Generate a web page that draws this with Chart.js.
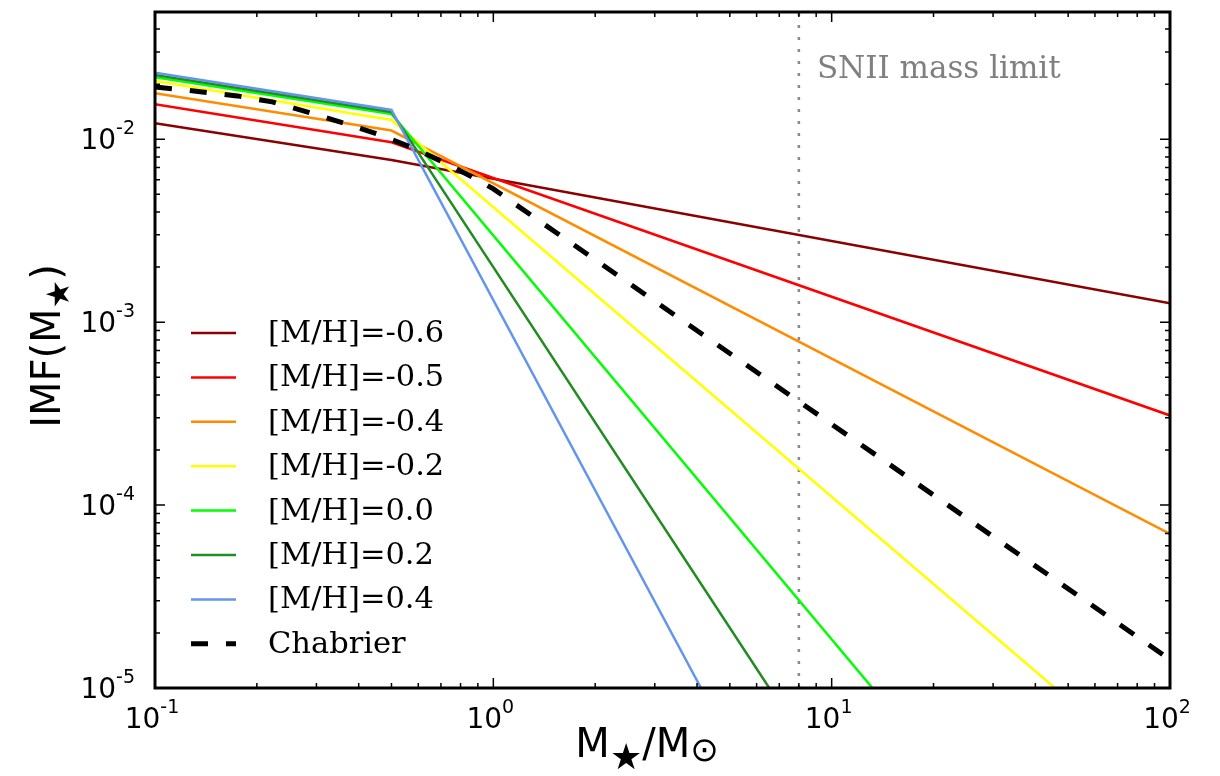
<!DOCTYPE html>
<html>
<head>
<meta charset="utf-8">
<script src="https://cdn.jsdelivr.net/npm/chart.js@4"></script>
<style>
  body { margin: 0; background: #fff; }
  canvas { display: block; }
</style>
</head>
<body>
<canvas id="imf" width="1220" height="776"></canvas>
<script>
// series: mass (Msun) and IMF value at the break points
const seriesLabels = ['[M/H]=-0.6', '[M/H]=-0.5', '[M/H]=-0.4', '[M/H]=-0.2',
                      '[M/H]=0.0', '[M/H]=0.2', '[M/H]=0.4', 'Chabrier'];

const mhM06X = [0.1, 0.5, 100];
const mhM06Y = [0.01223, 0.00770, 0.00127];
const mhM05X = [0.1, 0.5, 100];
const mhM05Y = [0.01552, 0.00963, 0.000309];
const mhM04X = [0.1, 0.5, 100];
const mhM04Y = [0.01783, 0.01115, 0.0000695];
const mhM02X = [0.1, 0.5, 45.7];
const mhM02Y = [0.0208, 0.01274, 0.00001];
const mh00X = [0.1, 0.5, 13.2];
const mh00Y = [0.0218, 0.01374, 0.00001];
const mhP02X = [0.1, 0.5, 6.54];
const mhP02Y = [0.02244, 0.01410, 0.00001];
const mhP04X = [0.1, 0.5, 4.11];
const mhP04Y = [0.02311, 0.01445, 0.00001];
const chabrierX = [0.1, 0.138, 0.175, 0.222, 0.281, 0.36, 0.453, 0.579, 0.71, 0.893, 1, 100];
const chabrierY = [0.01931, 0.01814, 0.01725, 0.01600, 0.01410, 0.01228, 0.01069,
                   0.00896, 0.00751, 0.00604, 0.00535, 0.0000143];

const snLimit = 8;
const snLabel = 'SNII mass limit';

const xRange = [0.1, 100];
const yRange = [0.00001, 0.0496];
const xMajor = [0.1, 1, 10, 100];
const xExp = ['-1', '0', '1', '2'];
const yMajor = [0.00001, 0.0001, 0.001, 0.01];
const yExp = ['-5', '-4', '-3', '-2'];

const pts = (xs, ys) => xs.map((x, i) => ({x: x, y: ys[i]}));

const line = function(label, xs, ys, color, order, dash) {
    return {
        label: label,
        data: pts(xs, ys),
        borderColor: color,
        borderWidth: dash ? 5 : 2.5,
        borderDash: dash || [],
        pointRadius: 0,
        tension: 0,
        fill: false,
        order: order
    };
};

const datasets = [
    line(seriesLabels[0], mhM06X, mhM06Y, '#8b0000', 8),
    line(seriesLabels[1], mhM05X, mhM05Y, '#ff0000', 7),
    line(seriesLabels[2], mhM04X, mhM04Y, '#ff8c00', 6),
    line(seriesLabels[3], mhM02X, mhM02Y, '#ffff00', 5),
    line(seriesLabels[4], mh00X, mh00Y, '#00ff00', 4),
    line(seriesLabels[5], mhP02X, mhP02Y, '#228b22', 3),
    line(seriesLabels[6], mhP04X, mhP04Y, '#6495ed', 2),
    line(seriesLabels[7], chabrierX, chabrierY, '#000000', 1, [17, 18]),
    {
        label: 'snii',
        data: [{x: snLimit, y: yRange[0]}, {x: snLimit, y: yRange[1]}],
        borderColor: '#888888',
        borderWidth: 2.5,
        borderDash: [3, 9],
        pointRadius: 0,
        order: 9
    }
];

// draw a run of text pieces (base + sub/superscripts)
const drawPieces = function(ctx, pieces, x, y, align) {
    let total = 0;
    pieces.forEach(p => { ctx.font = p.font; p.w = ctx.measureText(p.text).width; total += p.w; });
    let cx = align === 'right' ? x - total : align === 'center' ? x - total / 2 : x;
    ctx.textAlign = 'left';
    ctx.textBaseline = 'alphabetic';
    pieces.forEach(p => {
        ctx.font = p.font;
        ctx.fillText(p.text, cx, y + (p.dy || 0));
        cx += p.w;
    });
};

const tickValues = function(lo, hi) {
    const out = [];
    for (let e = -6; e <= 3; e++) {
        for (let m = 1; m <= 9; m++) {
            const v = m * Math.pow(10, e);
            if (v >= lo * 0.999 && v <= hi * 1.001) out.push({v: v, major: m === 1});
        }
    }
    return out;
};

const axesPlugin = {
    id: 'mplAxes',
    afterDraw(chart) {
        const ctx = chart.ctx;
        const a = chart.chartArea;
        const xs = chart.scales.x, ys = chart.scales.y;
        ctx.save();

        // ticks, pointing in, on all four sides
        ctx.strokeStyle = '#000';
        ctx.lineWidth = 1.5;
        tickValues(xRange[0], xRange[1]).forEach(t => {
            const px = xs.getPixelForValue(t.v);
            const len = t.major ? 10 : 5;
            ctx.beginPath();
            ctx.moveTo(px, a.bottom); ctx.lineTo(px, a.bottom - len);
            ctx.moveTo(px, a.top); ctx.lineTo(px, a.top + len);
            ctx.stroke();
        });
        tickValues(yRange[0], yRange[1]).forEach(t => {
            const py = ys.getPixelForValue(t.v);
            const len = t.major ? 10 : 5;
            ctx.beginPath();
            ctx.moveTo(a.left, py); ctx.lineTo(a.left + len, py);
            ctx.moveTo(a.right, py); ctx.lineTo(a.right - len, py);
            ctx.stroke();
        });

        // frame
        ctx.lineWidth = 3;
        ctx.strokeRect(a.left, a.top, a.right - a.left, a.bottom - a.top);

        // tick labels
        ctx.fillStyle = '#000';
        const baseFont = '28px "DejaVu Sans"';
        const supFont = '19px "DejaVu Sans"';
        xMajor.forEach((v, i) => {
            drawPieces(ctx, [
                {text: '10', font: baseFont},
                {text: xExp[i], font: supFont, dy: -15}
            ], xs.getPixelForValue(v) - 3, a.bottom + 40, 'center');
        });
        yMajor.forEach((v, i) => {
            drawPieces(ctx, [
                {text: '10', font: baseFont},
                {text: yExp[i], font: supFont, dy: -15}
            ], a.left - 20, ys.getPixelForValue(v) + 10, 'right');
        });

        // axis titles
        const titleFont = '40px "DejaVu Sans"';
        drawPieces(ctx, [
            {text: 'M', font: titleFont},
            {text: '\u2605', font: '36px "DejaVu Sans"', dy: 12},
            {text: '/M', font: titleFont},
            {text: '\u2299', font: '34px "DejaVu Sans"', dy: 4}
        ], 647, 757, 'center');

        ctx.save();
        ctx.translate(60, 346);
        ctx.rotate(-Math.PI / 2);
        drawPieces(ctx, [
            {text: 'IMF(M', font: titleFont},
            {text: '\u2605', font: '32px "DejaVu Sans"', dy: 9},
            {text: ')', font: titleFont}
        ], 0, 0, 'center');
        ctx.restore();

        // SNII annotation
        ctx.fillStyle = '#808080';
        ctx.font = '31px "DejaVu Serif"';
        ctx.textAlign = 'left';
        ctx.textBaseline = 'alphabetic';
        ctx.fillText(snLabel, xs.getPixelForValue(snLimit) + 18, 78);

        // legend
        const lx = 191, ly = 333, step = 44.4;
        chart.data.datasets.slice(0, seriesLabels.length).forEach((ds, i) => {
            const y = ly + i * step;
            ctx.strokeStyle = ds.borderColor;
            ctx.lineWidth = ds.borderWidth;
            ctx.setLineDash(ds.borderDash);
            ctx.beginPath();
            ctx.moveTo(lx, y); ctx.lineTo(lx + 45, y);
            ctx.stroke();
            ctx.setLineDash([]);
            ctx.fillStyle = '#000';
            ctx.font = '30.5px "DejaVu Serif"';
            ctx.textBaseline = 'middle';
            ctx.fillText(ds.label, 268, y + 1);
        });
        ctx.restore();
    }
};

new Chart(document.getElementById('imf'), {
    type: 'line',
    data: {datasets: datasets},
    options: {
        responsive: false,
        animation: false,
        devicePixelRatio: 1,
        events: [],
        layout: {padding: {left: 155, right: 50, top: 12, bottom: 88}},
        plugins: {legend: {display: false}, tooltip: {enabled: false}},
        scales: {
            x: {type: 'logarithmic', min: xRange[0], max: xRange[1], display: false},
            y: {type: 'logarithmic', min: yRange[0], max: yRange[1], display: false}
        }
    },
    plugins: [axesPlugin]
});
</script>
</body>
</html>
